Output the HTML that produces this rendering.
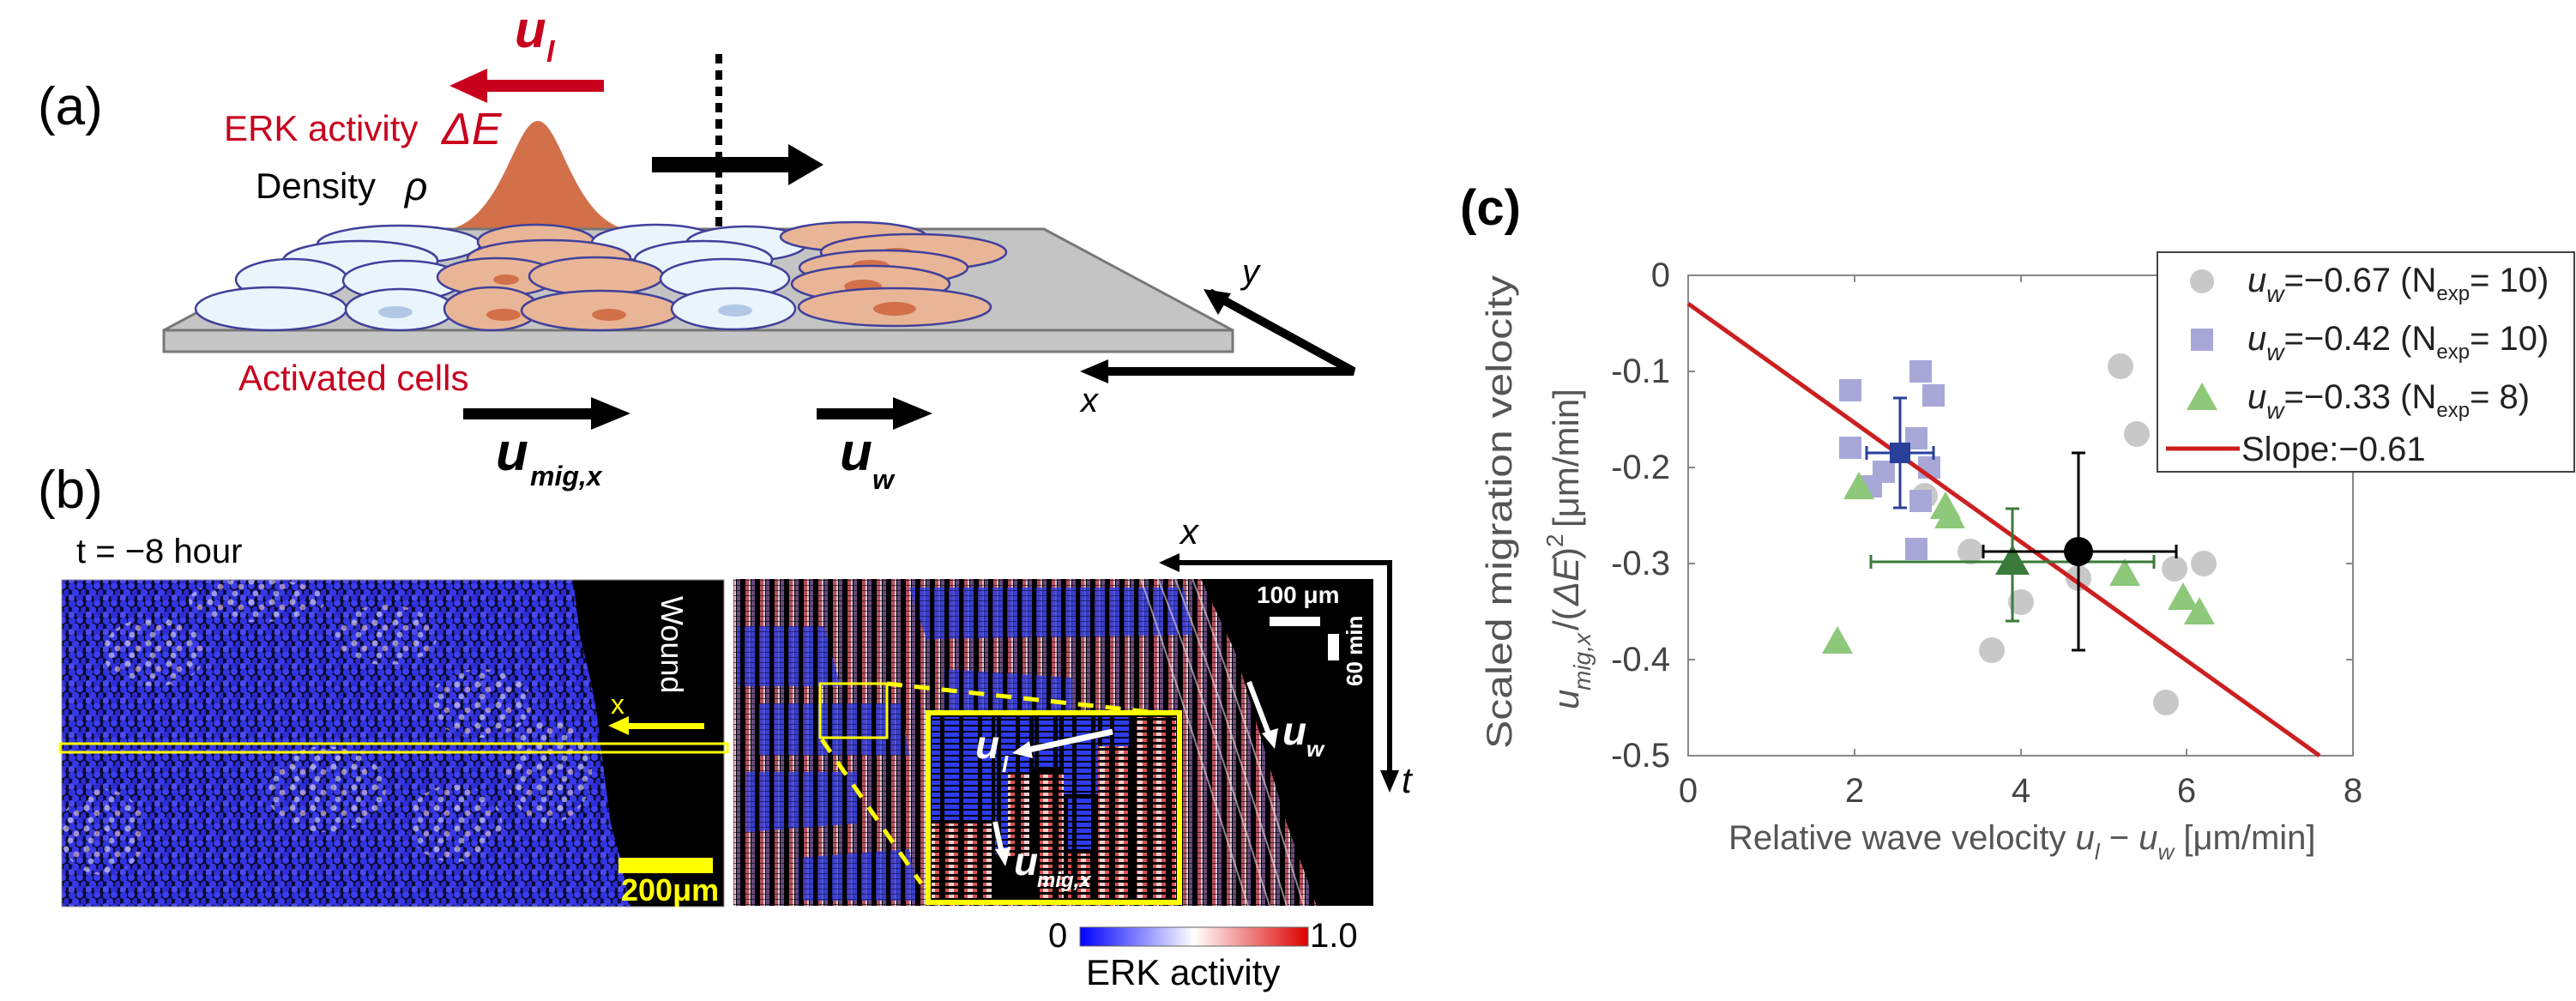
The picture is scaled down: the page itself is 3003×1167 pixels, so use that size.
<!DOCTYPE html>
<html><head><meta charset="utf-8"><style>
html,body{margin:0;padding:0;background:#fff;}
svg{display:block;}
text{font-family:"Liberation Sans",sans-serif;}
</style></head><body>
<svg width="3003" height="1167" viewBox="0 0 3003 1167" xmlns="http://www.w3.org/2000/svg">
<defs>
<pattern id="dots" width="20" height="20" patternUnits="userSpaceOnUse">
<rect width="20" height="20" fill="#0a0a30"/>
<circle cx="4" cy="4" r="4.2" fill="#3034e0"/>
<circle cx="13" cy="3" r="4" fill="#3d3df0"/>
<circle cx="18" cy="11" r="4" fill="#2a2ad0"/>
<circle cx="8" cy="11" r="4.2" fill="#3838e8"/>
<circle cx="3" cy="17" r="4" fill="#4a4af0"/>
<circle cx="13" cy="17" r="4" fill="#2e2ed8"/>
</pattern>
<pattern id="wdots" width="24" height="24" patternUnits="userSpaceOnUse">
<circle cx="5" cy="6" r="3.6" fill="#ece4f4"/>
<circle cx="17" cy="12" r="3.4" fill="#f0c8c8"/>
<circle cx="10" cy="20" r="3.4" fill="#dcdcf8"/>
</pattern>
<pattern id="streak" width="17" height="6" patternUnits="userSpaceOnUse">
<rect width="17" height="6" fill="#000"/>
<rect x="2" width="4" height="6" fill="#b85060"/>
<rect x="6" width="2" height="6" fill="#d8c8d0"/>
<rect x="9" width="4" height="6" fill="#6a4a80"/>
<rect x="0" y="4" width="17" height="1" fill="#000" opacity="0.6"/>
</pattern>
<pattern id="bstreak" width="17" height="6" patternUnits="userSpaceOnUse">
<rect width="17" height="6" fill="#000"/>
<rect x="1" width="12" height="6" fill="#2d3be0"/>
<rect x="0" y="4" width="17" height="1" fill="#000" opacity="0.4"/>
</pattern>
<pattern id="rstreak" width="22" height="7" patternUnits="userSpaceOnUse">
<rect width="22" height="7" fill="#000"/>
<rect x="2" width="15" height="4" fill="#d85050"/>
<rect x="6" width="6" height="4" fill="#f0d0d0"/>
</pattern>
<pattern id="ibstreak" width="22" height="7" patternUnits="userSpaceOnUse">
<rect width="22" height="7" fill="#000"/>
<rect x="1" width="17" height="5" fill="#2d3cf0"/>
</pattern>
<linearGradient id="cbar" x1="0" x2="1" y1="0" y2="0">
<stop offset="0" stop-color="#0000ff"/><stop offset="0.5" stop-color="#ffffff"/><stop offset="1" stop-color="#dd0000"/>
</linearGradient>
<clipPath id="kclip"><rect x="855" y="675" width="746" height="381"/></clipPath>
<clipPath id="lclip"><rect x="72" y="676" width="772" height="381"/></clipPath>
</defs>

<!-- ===== (a) ===== -->
<text x="44" y="145" font-size="62">(a)</text>
<text x="600" y="55" font-size="60" font-weight="bold" font-style="italic" fill="#c8001e">u</text>
<text x="637" y="72" font-size="34" font-weight="bold" font-style="italic" fill="#c8001e">l</text>
<rect x="560" y="93" width="144" height="14" fill="#c8001e"/>
<polygon points="524,100 568,80 568,120" fill="#c8001e"/>
<text x="261" y="164" font-size="42" fill="#c8001e">ERK activity</text>
<text x="515" y="168" font-size="52" font-style="italic" fill="#c8001e">ΔE</text>
<text x="298" y="231" font-size="42" fill="#000">Density</text>
<text x="472" y="233" font-size="46" font-style="italic" fill="#000">ρ</text>
<line x1="838" y1="63" x2="838" y2="265" stroke="#000" stroke-width="8" stroke-dasharray="11,8"/>
<rect x="760" y="183" width="162" height="18" fill="#000"/>
<polygon points="960,192 919,168 919,216" fill="#000"/>
<path d="M518,268 C585,262 600,141 627,141 C654,141 669,262 736,268 Z" fill="#d2704a"/>

<polygon points="411,267 1217,267 1437,385 191,385" fill="#c4c4c4" stroke="#777" stroke-width="3"/>
<rect x="191" y="385" width="1246" height="25" fill="#c6c6c6" stroke="#777" stroke-width="3"/>

<g stroke="#40409a" stroke-width="2.5">
<ellipse cx="465" cy="285" rx="95" ry="22" fill="#eaf4fd"/>
<ellipse cx="625" cy="282" rx="68" ry="20" fill="#e9b597"/>
<ellipse cx="765" cy="283" rx="75" ry="21" fill="#eaf4fd"/>
<ellipse cx="870" cy="284" rx="70" ry="20" fill="#eaf4fd"/>
<ellipse cx="995" cy="276" rx="85" ry="17" fill="#e9b597"/>
<ellipse cx="420" cy="304" rx="90" ry="23" fill="#eaf4fd"/>
<ellipse cx="640" cy="301" rx="95" ry="21" fill="#e9b597"/>
<ellipse cx="820" cy="303" rx="80" ry="22" fill="#eaf4fd"/>
<ellipse cx="1065" cy="294" rx="108" ry="21" fill="#e9b597"/>
<ellipse cx="1045" cy="296" rx="22" ry="7" fill="#d2704a" stroke="none"/>
<ellipse cx="340" cy="326" rx="65" ry="24" fill="#eaf4fd"/>
<ellipse cx="470" cy="327" rx="70" ry="23" fill="#eaf4fd"/>
<ellipse cx="580" cy="323" rx="70" ry="22" fill="#e9b597"/>
<ellipse cx="695" cy="322" rx="78" ry="22" fill="#e9b597"/>
<ellipse cx="590" cy="326" rx="15" ry="6" fill="#d2704a" stroke="none"/>
<ellipse cx="845" cy="325" rx="75" ry="23" fill="#eaf4fd"/>
<ellipse cx="1030" cy="312" rx="98" ry="20" fill="#e9b597"/>
<ellipse cx="1015" cy="310" rx="22" ry="7" fill="#d2704a" stroke="none"/>
<ellipse cx="1015" cy="331" rx="92" ry="21" fill="#e9b597"/>
<ellipse cx="1006" cy="334" rx="22" ry="8" fill="#d2704a" stroke="none"/>
<ellipse cx="316" cy="360" rx="88" ry="25" fill="#eaf4fd"/>
<ellipse cx="466" cy="361" rx="63" ry="24" fill="#eaf4fd"/>
<ellipse cx="461" cy="364" rx="20" ry="7" fill="#b0c8e6" stroke="none"/>
<ellipse cx="573" cy="360" rx="55" ry="25" fill="#e9b597"/>
<ellipse cx="587" cy="367" rx="20" ry="7" fill="#d2704a" stroke="none"/>
<ellipse cx="700" cy="362" rx="92" ry="23" fill="#e9b597"/>
<ellipse cx="710" cy="367" rx="20" ry="7" fill="#d2704a" stroke="none"/>
<ellipse cx="855" cy="360" rx="72" ry="24" fill="#eaf4fd"/>
<ellipse cx="857" cy="362" rx="20" ry="7" fill="#b0c8e6" stroke="none"/>
<ellipse cx="1043" cy="358" rx="112" ry="22" fill="#e9b597"/>
<ellipse cx="1043" cy="360" rx="25" ry="8" fill="#d2704a" stroke="none"/>
</g>

<polyline points="1285,433 1578,433 1410,341" fill="none" stroke="#000" stroke-width="10"/>
<polygon points="1259,433 1292,419 1292,447" fill="#000"/>
<polygon points="1403,337 1435,342 1420,367" fill="#000"/>
<text x="1448" y="330" font-size="40" font-style="italic">y</text>
<text x="1260" y="480" font-size="40" font-style="italic">x</text>

<text x="278" y="455" font-size="42" fill="#c8001e">Activated cells</text>
<rect x="540" y="476" width="152" height="13" fill="#000"/>
<polygon points="735,482 689,463 689,501" fill="#000"/>
<text x="578" y="548" font-size="62" font-weight="bold" font-style="italic">u</text>
<text x="618" y="566" font-size="32" font-weight="bold" font-style="italic">mig,x</text>
<rect x="952" y="476" width="92" height="13" fill="#000"/>
<polygon points="1087,482 1041,463 1041,501" fill="#000"/>
<text x="979" y="548" font-size="62" font-weight="bold" font-style="italic">u</text>
<text x="1017" y="570" font-size="32" font-weight="bold" font-style="italic">w</text>

<!-- ===== (b) ===== -->
<text x="44" y="592" font-size="62">(b)</text>
<text x="89" y="656" font-size="40">t = −8 hour</text>

<g clip-path="url(#lclip)">
<rect x="72" y="676" width="772" height="381" fill="url(#dots)"/>
<g opacity="0.6">
<ellipse cx="180" cy="760" rx="60" ry="40" fill="url(#wdots)"/>
<ellipse cx="380" cy="920" rx="70" ry="50" fill="url(#wdots)"/>
<ellipse cx="450" cy="740" rx="60" ry="35" fill="url(#wdots)"/>
<ellipse cx="560" cy="820" rx="60" ry="40" fill="url(#wdots)"/>
<ellipse cx="120" cy="970" rx="50" ry="50" fill="url(#wdots)"/>
<ellipse cx="530" cy="960" rx="55" ry="45" fill="url(#wdots)"/>
<ellipse cx="640" cy="900" rx="50" ry="60" fill="url(#wdots)"/>
<ellipse cx="300" cy="700" rx="80" ry="25" fill="url(#wdots)"/>
</g>
<polygon points="668,676 676,740 690,800 697,840 704,900 712,960 723,1000 735,1057 844,1057 844,676" fill="#000"/>
</g>
<rect x="72" y="676" width="772" height="381" fill="none" stroke="#999" stroke-width="1"/>
<text transform="translate(771,695) rotate(90)" font-size="36" fill="#fff">Wound</text>
<text x="712" y="832" font-size="32" fill="#ffff00">x</text>
<rect x="730" y="843" width="91" height="7" fill="#ffff00"/>
<polygon points="709,846 733,835 733,857" fill="#ffff00"/>
<rect x="70" y="867" width="778" height="10" fill="none" stroke="#ffff00" stroke-width="3"/>
<rect x="721" y="1000" width="110" height="18" fill="#ffff00"/>
<text x="724" y="1050" font-size="36" font-weight="bold" fill="#ffff00">200μm</text>

<g clip-path="url(#kclip)">
<rect x="855" y="675" width="746" height="381" fill="#000"/>
<polygon points="855,675 1400,675 1440,760 1470,860 1500,960 1535,1056 855,1056" fill="url(#streak)"/>
<g opacity="0.8">
<polygon points="1060,685 1380,685 1390,740 1080,745" fill="url(#bstreak)"/>
<polygon points="860,730 960,730 980,800 860,800" fill="url(#bstreak)"/>
<polygon points="880,820 1050,820 1060,880 880,880" fill="url(#bstreak)"/>
<polygon points="870,900 1000,900 1000,960 870,970" fill="url(#bstreak)"/>
<polygon points="930,1000 1060,990 1070,1050 930,1050" fill="url(#bstreak)"/>
<polygon points="1100,780 1250,790 1250,830 1100,830" fill="url(#bstreak)"/>
</g>
<g stroke="#e8d8e0" stroke-width="2" fill="none" opacity="0.6">
<path d="M1390,675 Q1440,800 1520,1056"/><path d="M1370,675 Q1420,800 1500,1056"/>
<path d="M1350,675 Q1400,800 1480,1056"/><path d="M1330,675 Q1380,820 1455,1056"/>
</g>
</g>
<rect x="956" y="797" width="78" height="63" fill="none" stroke="#ffff00" stroke-width="3"/>
<line x1="1034" y1="797" x2="1350" y2="831" stroke="#ffff00" stroke-width="5" stroke-dasharray="18,14"/>
<line x1="958" y1="862" x2="1074" y2="1030" stroke="#ffff00" stroke-width="5" stroke-dasharray="18,14"/>
<rect x="1082" y="831" width="293" height="221" fill="#000"/>
<rect x="1086" y="836" width="70" height="120" fill="url(#ibstreak)"/>
<rect x="1160" y="836" width="40" height="160" fill="url(#ibstreak)"/>
<rect x="1205" y="836" width="30" height="60" fill="url(#ibstreak)"/>
<rect x="1240" y="836" width="40" height="90" fill="url(#ibstreak)"/>
<rect x="1285" y="836" width="35" height="60" fill="url(#ibstreak)"/>
<rect x="1086" y="960" width="70" height="88" fill="url(#rstreak)"/>
<rect x="1175" y="900" width="25" height="100" fill="url(#rstreak)"/>
<rect x="1205" y="900" width="35" height="148" fill="url(#rstreak)"/>
<rect x="1245" y="930" width="30" height="60" fill="url(#ibstreak)"/>
<rect x="1245" y="995" width="30" height="53" fill="url(#rstreak)"/>
<rect x="1280" y="870" width="40" height="178" fill="url(#rstreak)"/>
<rect x="1325" y="836" width="46" height="212" fill="url(#rstreak)"/>
<rect x="1082" y="831" width="293" height="221" fill="none" stroke="#ffff00" stroke-width="6"/>
<line x1="1297" y1="853" x2="1195" y2="875" stroke="#fff" stroke-width="7"/>
<polygon points="1180,878 1200,864 1204,884" fill="#fff"/>
<text x="1137" y="884" font-size="46" font-weight="bold" font-style="italic" fill="#fff">u</text>
<text x="1168" y="900" font-size="26" font-weight="bold" font-style="italic" fill="#fff">l</text>
<line x1="1160" y1="958" x2="1168" y2="995" stroke="#fff" stroke-width="6"/>
<polygon points="1172,1010 1160,990 1178,988" fill="#fff"/>
<text x="1182" y="1020" font-size="46" font-weight="bold" font-style="italic" fill="#fff">u</text>
<text x="1209" y="1034" font-size="24" font-weight="bold" font-style="italic" fill="#fff">mig,x</text>
<text x="1465" y="703" font-size="28" font-weight="bold" fill="#fff">100 μm</text>
<rect x="1480" y="719" width="59" height="11" fill="#fff"/>
<rect x="1548" y="739" width="13" height="31" fill="#fff"/>
<text transform="translate(1588,800) rotate(-90)" font-size="26" font-weight="bold" fill="#fff">60 min</text>
<line x1="1456" y1="795" x2="1480" y2="858" stroke="#fff" stroke-width="6"/>
<polygon points="1486,873 1471,855 1490,849" fill="#fff"/>
<text x="1495" y="868" font-size="46" font-weight="bold" font-style="italic" fill="#fff">u</text>
<text x="1523" y="882" font-size="26" font-weight="bold" font-style="italic" fill="#fff">w</text>
<polyline points="1375,656 1620,656 1620,900" fill="none" stroke="#000" stroke-width="6"/>
<polygon points="1351,656 1375,645 1375,667" fill="#000"/>
<polygon points="1620,924 1609,898 1631,898" fill="#000"/>
<text x="1376" y="634" font-size="42" font-style="italic">x</text>
<text x="1634" y="924" font-size="42" font-style="italic">t</text>
<rect x="1259" y="1081" width="266" height="22" fill="url(#cbar)" stroke="#666" stroke-width="1"/>
<text x="1222" y="1104" font-size="40">0</text>
<text x="1527" y="1104" font-size="40">1.0</text>
<text x="1266" y="1148" font-size="42">ERK activity</text>

<!-- ===== (c) ===== -->
<text x="1702" y="262" font-size="58" font-weight="bold">(c)</text>
<text transform="translate(1762,597) rotate(-90)" font-size="42" fill="#555" text-anchor="middle" textLength="552" lengthAdjust="spacingAndGlyphs">Scaled migration velocity</text>
<g transform="translate(1840,827) rotate(-90)" fill="#555">
<text x="0" y="0" font-size="42" font-style="italic">u</text>
<text x="22" y="14" font-size="28" font-style="italic">mig,x</text>
<text x="92" y="0" font-size="42">/(</text>
<text x="121" y="0" font-size="42" font-style="italic">ΔE</text>
<text x="175" y="0" font-size="42">)</text>
<text x="189" y="-18" font-size="28">2</text>
<text x="212" y="0" font-size="42">[μm/min]</text>
</g>
<rect x="1968" y="321" width="775" height="560" fill="#fff" stroke="#888" stroke-width="2"/>
<g fill="#444" font-size="40" text-anchor="end">
<text x="1947" y="334">0</text>
<text x="1947" y="446">-0.1</text>
<text x="1947" y="558">-0.2</text>
<text x="1947" y="670">-0.3</text>
<text x="1947" y="782">-0.4</text>
<text x="1947" y="894">-0.5</text>
</g>
<g fill="#444" font-size="40" text-anchor="middle">
<text x="1968" y="935">0</text>
<text x="2162" y="935">2</text>
<text x="2356" y="935">4</text>
<text x="2549" y="935">6</text>
<text x="2743" y="935">8</text>
</g>
<g stroke="#888" stroke-width="2">
<line x1="2162" y1="881" x2="2162" y2="873"/><line x1="2356" y1="881" x2="2356" y2="873"/><line x1="2549" y1="881" x2="2549" y2="873"/>
<line x1="2162" y1="321" x2="2162" y2="329"/><line x1="2356" y1="321" x2="2356" y2="329"/><line x1="2549" y1="321" x2="2549" y2="329"/>
<line x1="1968" y1="433" x2="1976" y2="433"/><line x1="1968" y1="545" x2="1976" y2="545"/><line x1="1968" y1="657" x2="1976" y2="657"/><line x1="1968" y1="769" x2="1976" y2="769"/>
<line x1="2743" y1="433" x2="2735" y2="433"/><line x1="2743" y1="545" x2="2735" y2="545"/><line x1="2743" y1="657" x2="2735" y2="657"/><line x1="2743" y1="769" x2="2735" y2="769"/>
</g>
<text x="2015" y="990" font-size="40" fill="#555">Relative wave velocity <tspan font-style="italic">u</tspan><tspan font-size="26" dy="12" font-style="italic">l</tspan><tspan dy="-12"> − </tspan><tspan font-style="italic">u</tspan><tspan font-size="26" dy="12" font-style="italic">w</tspan><tspan dy="-12"> [μm/min]</tspan></text>

<g fill="#c8c8c8">
<circle cx="2472" cy="427" r="15"/><circle cx="2491" cy="506" r="15"/><circle cx="2297" cy="643" r="15"/>
<circle cx="2423" cy="674" r="15"/><circle cx="2356" cy="702" r="15"/><circle cx="2322" cy="758" r="15"/>
<circle cx="2525" cy="819" r="15"/><circle cx="2535" cy="663" r="15"/><circle cx="2569" cy="657" r="15"/>
<circle cx="2244" cy="578" r="15"/>
</g>
<g fill="#a8a8d8">
<rect x="2144" y="442" width="26" height="26"/><rect x="2226" y="420" width="26" height="26"/><rect x="2241" y="448" width="26" height="26"/>
<rect x="2144" y="509" width="26" height="26"/><rect x="2221" y="498" width="26" height="26"/><rect x="2183" y="537" width="26" height="26"/>
<rect x="2168" y="554" width="26" height="26"/><rect x="2236" y="532" width="26" height="26"/><rect x="2226" y="571" width="26" height="26"/>
<rect x="2221" y="627" width="26" height="26"/>
</g>
<g fill="#8ec87a">
<polygon points="2167,550 2185,582 2149,582"/><polygon points="2268,573 2286,605 2250,605"/><polygon points="2273,584 2291,616 2255,616"/>
<polygon points="2477,651 2495,683 2459,683"/><polygon points="2545,679 2563,711 2527,711"/><polygon points="2564,696 2582,728 2546,728"/>
<polygon points="2142,730 2160,762 2124,762"/>
</g>
<line x1="1968" y1="354" x2="2704" y2="881" stroke="#cc1f1f" stroke-width="5"/>
<g stroke="#2a3f9a" stroke-width="3">
<line x1="2176" y1="528" x2="2254" y2="528"/><line x1="2215" y1="464" x2="2215" y2="592"/>
<line x1="2176" y1="520" x2="2176" y2="536"/><line x1="2254" y1="520" x2="2254" y2="536"/>
<line x1="2207" y1="464" x2="2223" y2="464"/><line x1="2207" y1="592" x2="2223" y2="592"/>
</g>
<rect x="2203" y="516" width="24" height="24" fill="#2a3f9a"/>
<g stroke="#3a7a3a" stroke-width="3">
<line x1="2181" y1="655" x2="2511" y2="655"/><line x1="2346" y1="593" x2="2346" y2="724"/>
<line x1="2181" y1="647" x2="2181" y2="663"/><line x1="2511" y1="647" x2="2511" y2="663"/>
<line x1="2338" y1="593" x2="2354" y2="593"/><line x1="2338" y1="724" x2="2354" y2="724"/>
</g>
<polygon points="2346,635 2366,670 2326,670" fill="#3a7a3a"/>
<g stroke="#000" stroke-width="3">
<line x1="2312" y1="643" x2="2537" y2="643"/><line x1="2423" y1="528" x2="2423" y2="758"/>
<line x1="2312" y1="635" x2="2312" y2="651"/><line x1="2537" y1="635" x2="2537" y2="651"/>
<line x1="2415" y1="528" x2="2431" y2="528"/><line x1="2415" y1="758" x2="2431" y2="758"/>
</g>
<circle cx="2423" cy="643" r="17" fill="#000"/>

<rect x="2515" y="294" width="486" height="256" fill="#fff" stroke="#444" stroke-width="2"/>
<circle cx="2567" cy="328" r="14" fill="#c8c8c8"/>
<rect x="2554" y="383" width="26" height="26" fill="#a8a8d8"/>
<polygon points="2567,446 2585,478 2549,478" fill="#8ec87a"/>
<line x1="2525" y1="523" x2="2611" y2="523" stroke="#cc1f1f" stroke-width="5"/>
<g font-size="40" fill="#222">
<text x="2620" y="340"><tspan font-style="italic">u</tspan><tspan font-size="28" dy="12" font-style="italic">w</tspan><tspan dy="-12">=−0.67 (N</tspan><tspan font-size="24" dy="10">exp</tspan><tspan dy="-10">= 10)</tspan></text>
<text x="2620" y="408"><tspan font-style="italic">u</tspan><tspan font-size="28" dy="12" font-style="italic">w</tspan><tspan dy="-12">=−0.42 (N</tspan><tspan font-size="24" dy="10">exp</tspan><tspan dy="-10">= 10)</tspan></text>
<text x="2620" y="476"><tspan font-style="italic">u</tspan><tspan font-size="28" dy="12" font-style="italic">w</tspan><tspan dy="-12">=−0.33 (N</tspan><tspan font-size="24" dy="10">exp</tspan><tspan dy="-10">= 8)</tspan></text>
<text x="2613" y="537">Slope:−0.61</text>
</g>
</svg>
</body></html>
